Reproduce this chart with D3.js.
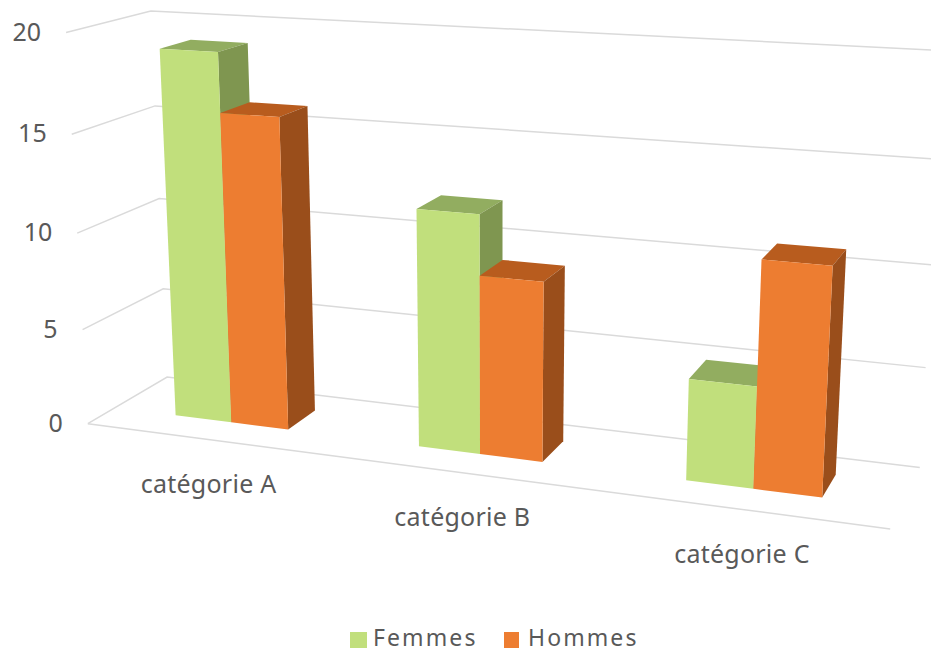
<!DOCTYPE html>
<html lang="fr"><head><meta charset="utf-8">
<style>
html,body{margin:0;background:#fff}
svg{display:block}
text{font-family:"Noto Sans",sans-serif;fill:#595959}
</style>
<script src="https://cdn.jsdelivr.net/npm/d3@7"></script></head>
<body><svg id="chart" width="931" height="653"></svg>
<script>
// Chart data
const categories = ["catégorie A", "catégorie B", "catégorie C"];
const seriesNames = ["Femmes", "Hommes"];
const femmes = [19, 12, 5];
const hommes = [16, 9, 11];
const valueTicks = [0, 5, 10, 15, 20];

// Face colours per series: front, top, side
const frontColors = ["#C1DF7C", "#ED7D31"];
const topColors = ["#92AD60", "#B85C1E"];
const sideColors = ["#7F9650", "#9A4E1B"];

// Perspective camera: maps plot coordinates (across, height, depth), each in 0..1, to the page
const camera = [
  [681.710, -25.087, 91.211, 87.823],
  [33.552, -392.782, -19.655, 423.666],
  [-0.1355556, -0.0506732, 0.0713646, 1]
];
function project(u, v, w) {
  const [a, b, c] = camera;
  const d = c[0] * u + c[1] * v + c[2] * w + c[3];
  return [
    (a[0] * u + a[1] * v + a[2] * w + a[3]) / d,
    (b[0] * u + b[1] * v + b[2] * w + b[3]) / d
  ];
}

const svg = d3.select("#chart");
const line = d3.line();

const across = d3.scaleBand().domain(categories).range([0, 1]).paddingInner(0.526).paddingOuter(0.263);
const within = d3.scaleBand().domain(seriesNames).range([0, across.bandwidth()]);
const height = d3.scaleLinear().domain([0, 20]).range([0, 1]);
// Front and back of the boxes, as fractions of the floor depth
const barFront = 0.33, barBack = 0.715;

// Side wall and back wall gridlines
svg.append("g").selectAll("path").data(valueTicks).join("path")
  .attr("fill", "none").attr("stroke", "#DADADA").attr("stroke-width", 1.5)
  .attr("d", t => line([project(0, height(t), 0), project(0, height(t), 1), project(1, height(t), 1)]));

// Front edge of the floor
svg.append("path").attr("fill", "none").attr("stroke", "#DADADA").attr("stroke-width", 1.5)
  .attr("d", line([project(0, 0, 0), project(1, 0, 0)]));

// Bars, one box per category and series
const bars = [];
categories.forEach((c, i) => {
  [femmes, hommes].forEach((values, s) => {
    bars.push({ category: c, series: seriesNames[s], s, value: values[i] });
  });
});

const face = pts => line(pts) + "Z";
const barGroup = svg.append("g").selectAll("g").data(bars).join("g");
barGroup.each(function (d) {
  const u0 = across(d.category) + within(d.series);
  const u1 = u0 + within.bandwidth();
  const v = height(d.value);
  const g = d3.select(this);
  g.append("path").attr("fill", topColors[d.s])
    .attr("d", face([project(u0, v, barFront), project(u1, v, barFront), project(u1, v, barBack), project(u0, v, barBack)]));
  g.append("path").attr("fill", sideColors[d.s])
    .attr("d", face([project(u1, 0, barFront), project(u1, v, barFront), project(u1, v, barBack), project(u1, 0, barBack)]));
  g.append("path").attr("fill", frontColors[d.s])
    .attr("d", face([project(u0, 0, barFront), project(u1, 0, barFront), project(u1, v, barFront), project(u0, v, barFront)]));
});

// Value axis labels
svg.append("g").selectAll("text").data(valueTicks).join("text")
  .attr("text-anchor", "end").attr("font-size", 25)
  .attr("x", t => project(0, height(t), 0)[0] - 25)
  .attr("y", t => project(0, height(t), 0)[1] + 8)
  .text(t => t);

// Category labels below the floor
svg.append("g").selectAll("text").data(categories).join("text")
  .attr("text-anchor", "middle").attr("font-size", 25).attr("letter-spacing", 0.25)
  .attr("x", c => project(across(c) + across.bandwidth() / 2, 0, 0)[0] + 2.5)
  .attr("y", c => project(across(c) + across.bandwidth() / 2, 0, 0)[1] + 54)
  .text(c => c);

// Legend
const legendX = d3.scaleOrdinal().domain(seriesNames).range([350, 504]);
const legend = svg.append("g").selectAll("g").data(seriesNames).join("g")
  .attr("transform", n => `translate(${legendX(n)},632)`);
legend.append("rect").attr("width", (n, i) => i ? 15 : 17).attr("height", 16)
  .attr("fill", (n, i) => frontColors[i]);
legend.append("text").attr("x", (n, i) => i ? 24 : 23).attr("y", 14).attr("font-size", 23)
  .attr("letter-spacing", 2.1).text(n => n);
</script></body></html>
